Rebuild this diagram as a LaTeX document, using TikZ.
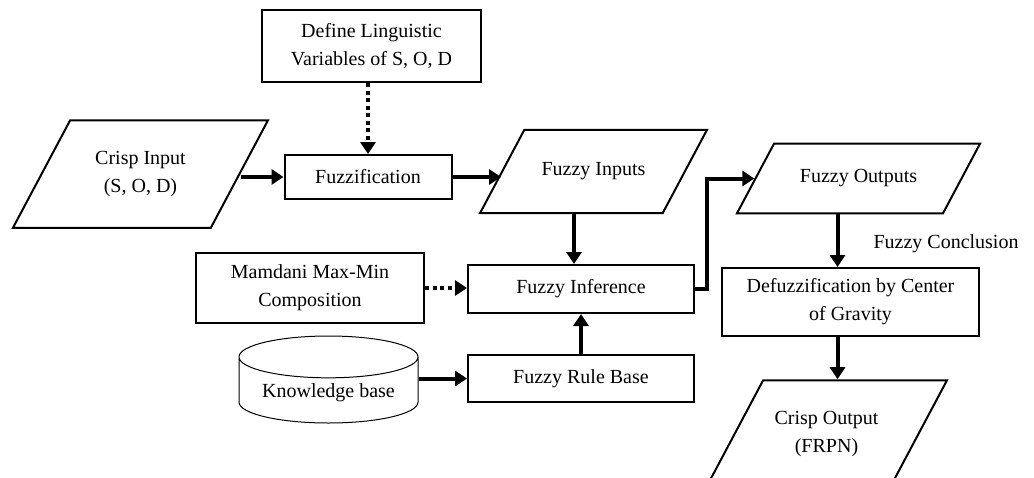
\documentclass[tikz,border=0pt]{standalone}
\usepackage{fontspec}
\setmainfont{Liberation Serif}
\usepackage{tikz}
\usetikzlibrary{arrows.meta,shapes.geometric}

\begin{document}
\begin{tikzpicture}[x=1pt, y=-1pt, font=\fontsize{20}{28}\selectfont, >={Triangle[length=12pt,width=15pt]}]
\tikzset{proc/.style={draw, line width=2pt, align=center, inner sep=2pt}, io/.style={trapezium, trapezium left angle=62, trapezium right angle=118, trapezium stretches body, draw, line width=2pt, align=center, inner xsep=0pt}, store/.style={cylinder, shape border rotate=90, aspect=0.3, draw, line width=1pt, align=center, anchor=shape center}, flow/.style={->, line width=4pt}, guide/.style={->, line width=4pt, dash pattern=on 4pt off 3.5pt}}
\clip (0,0) rectangle (1034,477);
\node[proc, minimum width=219pt, minimum height=72pt] (ling) at (371.5,46) {Define Linguistic\\Variables of S, O, D};
\node[io, minimum width=255pt, inner ysep=31pt] (crisp) at (140.5,174) {Crisp Input\\(S, O, D)};
\node[proc, minimum width=167pt, minimum height=44pt] (fuzz) at (368,177) {Fuzzification};
\node[io, minimum width=227pt, inner ysep=33pt] (fin) at (593.5,171.5) {Fuzzy Inputs};
\node[io, minimum width=243pt, inner ysep=26pt] (fout) at (858.5,178.5) {Fuzzy Outputs};
\node[proc, minimum width=228pt, minimum height=70pt] (mamdani) at (310,288) {Mamdani Max-Min\\Composition};
\node[proc, minimum width=226pt, minimum height=48pt] (infer) at (581,289) {Fuzzy Inference};
\node[proc, minimum width=226pt, minimum height=47pt] (rules) at (581,378.5) {Fuzzy Rule Base};
\node[store, minimum width=179pt, minimum height=87pt] (kb) at (328.5,379.5) {Knowledge base};
\node[proc, minimum width=257pt, minimum height=68pt] (defuzz) at (850.5,302) {Defuzzification by Center\\of Gravity};
\node[io, minimum width=241pt, inner ysep=31pt] (cout) at (826.5,434) {Crisp Output\\(FRPN)};
\node[anchor=west] (concl) at (870,244) {Fuzzy Conclusion};
\draw[flow] (crisp.east |- fuzz.west) -- (fuzz.west);
\draw[guide] (ling.south -| fuzz.north) -- (fuzz.north);
\draw[flow] (fuzz.east) -- (fuzz.east -| fin.west);
\draw[flow] ([xshift=-7]fin.south -| infer.north) -- ([xshift=-7]infer.north);
\draw[guide] (mamdani.east) -- (mamdani.east -| infer.west);
\draw[flow] (rules) -- (infer);
\draw[flow] (rules.west -| kb.east) -- (rules.west);
\draw[flow] (infer.east) -- ++(12,0) |- (fout.west);
\draw[flow] ([xshift=-13]fout.south -| defuzz.north) -- ([xshift=-13]defuzz.north);
\draw[flow] ([xshift=-13]defuzz.south) -- ([xshift=-13]defuzz.south |- cout.north);
\end{tikzpicture}
\end{document}
